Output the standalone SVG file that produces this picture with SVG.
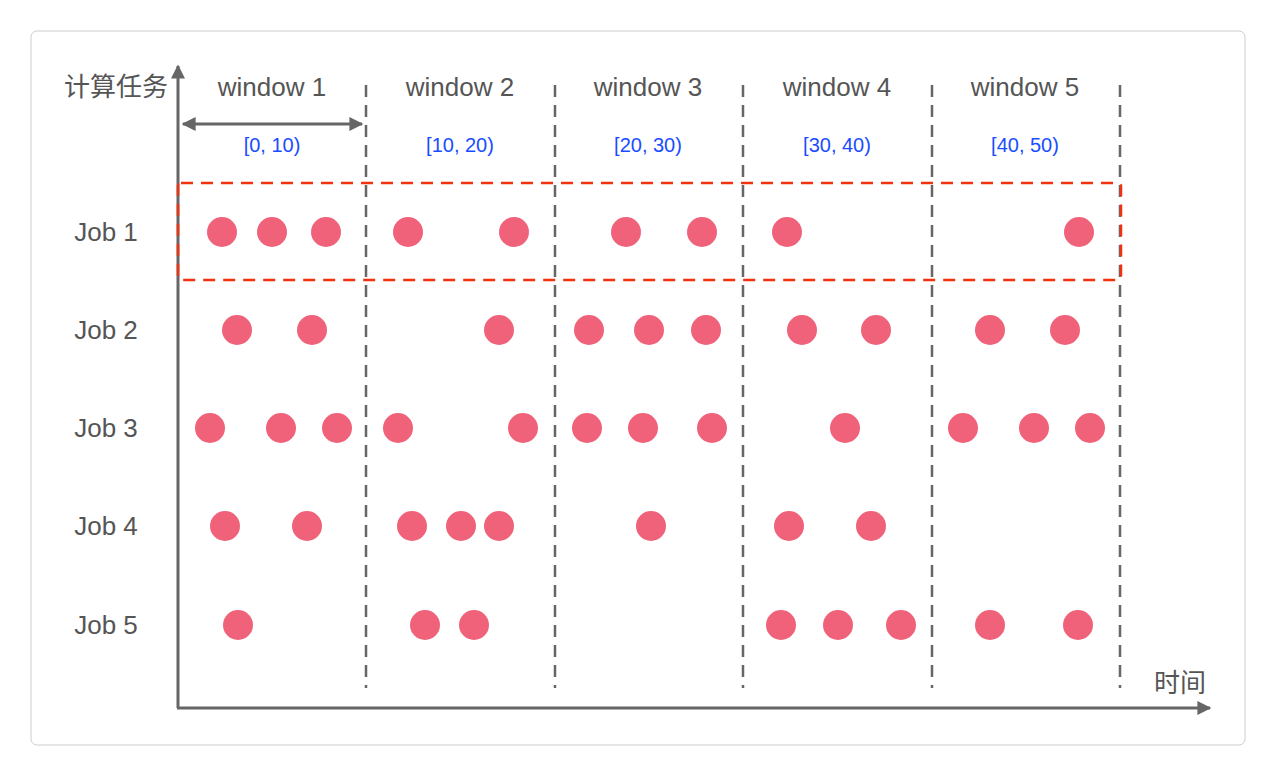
<svg xmlns="http://www.w3.org/2000/svg" width="1276" height="776" viewBox="0 0 1276 776">
<style>
.t{font-family:"Liberation Sans","Noto Sans CJK SC",sans-serif;fill:#555;font-size:26px;text-anchor:middle}
.b{font-family:"Liberation Sans",sans-serif;fill:#1a4dff;font-size:20px;text-anchor:middle}
.d{stroke:#666;stroke-width:2.5;stroke-dasharray:12,8;fill:none}
.ax{stroke:#666;stroke-width:3;fill:none}
circle{fill:#f0627a}
</style>
<defs>
<marker id="ar" viewBox="0 0 10 10" refX="9" refY="5" markerWidth="6" markerHeight="6" orient="auto-start-reverse" markerUnits="userSpaceOnUse"><path d="M0,0L10,5L0,10z" fill="#666" transform="scale(1)"/></marker>
<marker id="ar2" viewBox="0 0 10 10" refX="9" refY="5" markerWidth="16" markerHeight="14" orient="auto-start-reverse" markerUnits="userSpaceOnUse"><path d="M0,0L10,5L0,10z" fill="#666"/></marker>
</defs>
<rect x="0" y="0" width="1276" height="776" fill="#fff"/>
<rect x="31" y="31" width="1214" height="714" rx="6" fill="#fff" stroke="#ccc" stroke-width="1"/>
<g id="connectors">
<line class="ax" x1="178" y1="708" x2="178" y2="66" marker-end="url(#ar2)"/>
<line class="ax" x1="177" y1="708" x2="1210" y2="708" marker-end="url(#ar2)"/>
<line x1="183" y1="124" x2="362" y2="124" stroke="#666" stroke-width="3" marker-start="url(#ar2)" marker-end="url(#ar2)"/>
<line class="d" x1="366" y1="85" x2="366" y2="688"/>
<line class="d" x1="555" y1="85" x2="555" y2="688"/>
<line class="d" x1="743" y1="85" x2="743" y2="688"/>
<line class="d" x1="932" y1="85" x2="932" y2="688"/>
<line class="d" x1="1120" y1="85" x2="1120" y2="688"/>
<rect x="178" y="183" width="943" height="97" rx="3" fill="none" stroke="#f2320f" stroke-width="2.5" stroke-dasharray="12,8"/>
</g>
<g id="labels">
<text class="t" x="116" y="96">计算任务</text>
<text class="t" x="1180" y="692">时间</text>
<text class="t" x="272" y="96">window 1</text>
<text class="t" x="460" y="96">window 2</text>
<text class="t" x="648" y="96">window 3</text>
<text class="t" x="837" y="96">window 4</text>
<text class="t" x="1025" y="96">window 5</text>
<text class="b" x="272" y="152">[0, 10)</text>
<text class="b" x="460" y="152">[10, 20)</text>
<text class="b" x="648" y="152">[20, 30)</text>
<text class="b" x="837" y="152">[30, 40)</text>
<text class="b" x="1025" y="152">[40, 50)</text>
<text class="t" x="106" y="241">Job 1</text>
<text class="t" x="106" y="339">Job 2</text>
<text class="t" x="106" y="437">Job 3</text>
<text class="t" x="106" y="535">Job 4</text>
<text class="t" x="106" y="634">Job 5</text>
</g>
<g id="job1"><circle cx="222" cy="232" r="15"/><circle cx="272" cy="232" r="15"/><circle cx="326" cy="232" r="15"/><circle cx="408" cy="232" r="15"/><circle cx="514" cy="232" r="15"/><circle cx="626" cy="232" r="15"/><circle cx="702" cy="232" r="15"/><circle cx="787" cy="232" r="15"/><circle cx="1079" cy="232" r="15"/></g>
<g id="job2"><circle cx="237" cy="330" r="15"/><circle cx="312" cy="330" r="15"/><circle cx="499" cy="330" r="15"/><circle cx="589" cy="330" r="15"/><circle cx="649" cy="330" r="15"/><circle cx="706" cy="330" r="15"/><circle cx="802" cy="330" r="15"/><circle cx="876" cy="330" r="15"/><circle cx="990" cy="330" r="15"/><circle cx="1065" cy="330" r="15"/></g>
<g id="job3"><circle cx="210" cy="428" r="15"/><circle cx="281" cy="428" r="15"/><circle cx="337" cy="428" r="15"/><circle cx="398" cy="428" r="15"/><circle cx="523" cy="428" r="15"/><circle cx="587" cy="428" r="15"/><circle cx="643" cy="428" r="15"/><circle cx="712" cy="428" r="15"/><circle cx="845" cy="428" r="15"/><circle cx="963" cy="428" r="15"/><circle cx="1034" cy="428" r="15"/><circle cx="1090" cy="428" r="15"/></g>
<g id="job4"><circle cx="225" cy="526" r="15"/><circle cx="307" cy="526" r="15"/><circle cx="412" cy="526" r="15"/><circle cx="461" cy="526" r="15"/><circle cx="499" cy="526" r="15"/><circle cx="651" cy="526" r="15"/><circle cx="789" cy="526" r="15"/><circle cx="871" cy="526" r="15"/></g>
<g id="job5"><circle cx="238" cy="625" r="15"/><circle cx="425" cy="625" r="15"/><circle cx="474" cy="625" r="15"/><circle cx="781" cy="625" r="15"/><circle cx="838" cy="625" r="15"/><circle cx="901" cy="625" r="15"/><circle cx="990" cy="625" r="15"/><circle cx="1078" cy="625" r="15"/></g>
</svg>
